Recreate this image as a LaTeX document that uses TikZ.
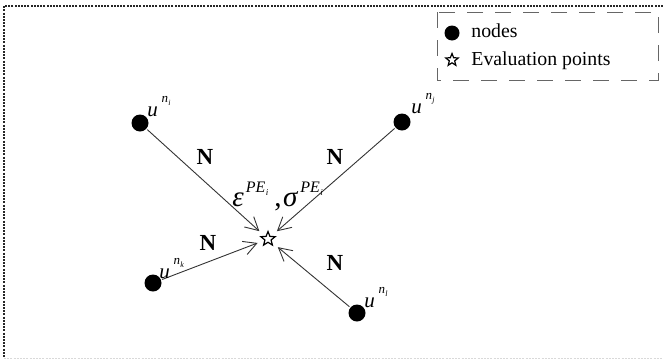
\documentclass[tikz,border=0pt]{standalone}
\usepackage{fontspec}
\setmainfont{Liberation Serif}
\usetikzlibrary{arrows.meta,shapes.geometric}
\newcommand\ulab[1]{\textit{u}\kern1.8pt\raisebox{1.35ex}{\fontsize{6.5}{6.5}\selectfont\textit{n}\kern0.2pt\raisebox{-0.45ex}{\fontsize{4}{4}\selectfont\textit{#1}}}}
\newcommand\pelab{\kern1pt\raisebox{1.0ex}{\fontsize{8}{8}\selectfont\textit{PE}\kern0.2pt\raisebox{-0.4ex}{\fontsize{4.5}{4.5}\selectfont\textit{i}}}}
\tikzset{
  dotnode/.style={circle,fill=black,inner sep=0pt,minimum size=8.5pt},
  evalstar/.style={star,star points=5,star point ratio=2.3,draw=black,line width=0.6pt,fill=white,inner sep=0pt,minimum size=7.5pt},
  legstar/.style={star,star points=5,star point ratio=2.3,draw=black,line width=0.6pt,inner sep=0pt,minimum size=6.5pt},
  legdot/.style={circle,fill=black,inner sep=0pt,minimum size=7.5pt},
  conn/.style={draw=black!80,line width=0.45pt,-{Straight Barb[length=6.5pt,width=7pt,line width=0.45pt]},shorten >=3.5pt,shorten <=0.5pt},
  nlab/.style={font=\fontsize{11.5}{12}\selectfont\bfseries,inner sep=0pt},
  ulabel/.style={font=\fontsize{10.5}{11}\selectfont,inner sep=0pt,anchor=base west},
  legtext/.style={font=\fontsize{9.9}{10}\selectfont,inner sep=0pt,anchor=base west}
}
\begin{document}
\begin{tikzpicture}[x=0.5pt,y=-0.5pt]
\useasboundingbox (0,0) rectangle (663,359);
% outer frame
\draw[black!85,line width=0.6pt,dash pattern=on 1pt off 0.6pt] (663,6) -- (4,6) -- (4,358);
\draw[black!15,line width=0.4pt,dash pattern=on 1pt off 0.6pt] (4,358) -- (663,358);
% legend
\draw[black!60,line width=0.5pt,dash pattern=on 8pt off 6pt] (437,12) rectangle (658,80);
\node[legdot] (ld) at (452,33) {};
\node[legtext] (lt1) at (471,37) {nodes};
\node[legstar] (ls) at (452,60) {};
\node[legtext] (lt2) at (471,65) {Evaluation points};
% nodes
\node[evalstar] (pe) at (268,239) {};
\node[dotnode] (ni) at (140,123) {};
\node[dotnode] (nj) at (402,122) {};
\node[dotnode] (nk) at (153,283) {};
\node[dotnode] (nl) at (357,313) {};
% connectors
\draw[conn] (ni) -- (pe);
\draw[conn] (nj) -- (pe);
\draw[conn] (nk) -- (pe);
\draw[conn] (nl) -- (pe);
% labels
\node[ulabel] (li) at (147,116) {\ulab{i}};
\node[ulabel] (lj) at (411,113) {\ulab{j}};
\node[ulabel] (lk) at (159,278) {\ulab{k}};
\node[ulabel] (ll) at (364,307) {\ulab{l}};
\node[nlab] (Ni) at (205,157) {N};
\node[nlab] (Nj) at (335,157) {N};
\node[nlab] (Nk) at (208,243) {N};
\node[nlab] (Nl) at (335,263) {N};
\node[font=\fontsize{14.5}{15}\selectfont,inner sep=0pt,anchor=base west] (es) at (232,206) {\textit{ε}\pelab\kern3pt,\kern0.8pt\textit{σ}\pelab};
\end{tikzpicture}
\end{document}
